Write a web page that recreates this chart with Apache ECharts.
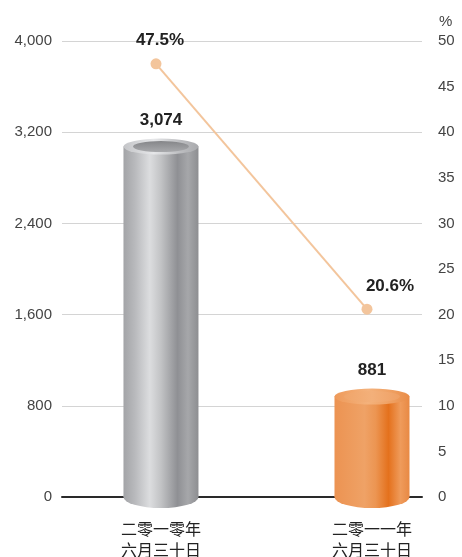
<!DOCTYPE html>
<html>
<head>
<meta charset="utf-8">
<script src="https://cdn.jsdelivr.net/npm/echarts@6/dist/echarts.min.js"></script>
<style>
html,body{margin:0;padding:0;background:#fff;}
#chart{width:462px;height:557px;}
</style>
</head>
<body>
<div id="chart"></div>
<script>
// ---- data ----
var categories = ['二零一零年\n六月三十日', '二零一一年\n六月三十日'];
var amounts = [3074, 881];
var ratios = [47.5, 20.6];
var leftTicks = [0, 800, 1600, 2400, 3200, 4000];
var rightTicks = [0, 5, 10, 15, 20, 25, 30, 35, 40, 45, 50];
var rightUnit = '%';

var FONT = '"Liberation Sans", Arial, Helvetica, sans-serif';
function fmt(v){ return String(v).replace(/\B(?=(\d{3})+(?!\d))/g, ','); }
function lg(stops){
  return new echarts.graphic.LinearGradient(0,0,1,0, stops.map(function(s){return {offset:s[0], color:s[1]};}));
}
var bodyGray = [[0,'#a3a4a7'],[0.15,'#b8b9bc'],[0.35,'#dcdddf'],[0.5,'#c2c3c5'],[0.72,'#8f9094'],[0.86,'#a6a7aa'],[1,'#8d8e91']];
var bodyOrange = [[0,'#ec9352'],[0.4,'#efa266'],[0.55,'#ec9552'],[0.72,'#e4711d'],[0.88,'#ef9b5b'],[1,'#e88944']];
var bodies = [bodyGray, bodyOrange];

var barData = amounts.map(function(v,i){ return {value:[i, v], itemStyle:{color: lg(bodies[i])}}; });
var bottomData = amounts.map(function(v,i){ return {value:[i, 0], itemStyle:{color: lg(bodies[i]), opacity:1}}; });
var topData = amounts.map(function(v,i){
  var c = i === 0
    ? new echarts.graphic.LinearGradient(0,0,1,0,[{offset:0,color:'#c4c5c8'},{offset:0.4,color:'#e6e7e9'},{offset:0.75,color:'#bdbec1'},{offset:1,color:'#a9aaad'}])
    : new echarts.graphic.LinearGradient(0,0,1,0,[{offset:0,color:'#ee9a5a'},{offset:0.45,color:'#f4b27c'},{offset:0.8,color:'#ee9d5e'},{offset:1,color:'#e98c48'}]);
  return {value:[i, v], itemStyle:{color:c, opacity:1}};
});
var innerData = amounts.map(function(v,i){
  var c = i === 0
    ? new echarts.graphic.LinearGradient(0,0,0,1,[{offset:0,color:'#858689'},{offset:1,color:'#a9aaad'}])
    : new echarts.graphic.LinearGradient(0,0,1,0,[{offset:0,color:'#f0a56a'},{offset:0.5,color:'#f3b07a'},{offset:1,color:'#efa064'}]);
  return {value:[i, v], itemStyle:{color:c, opacity:1}};
});
var lineData = ratios.map(function(v,i){
  return {value:[i, v], label:{offset: i === 0 ? [4, 0] : [23, 0]}};
});

var chart = echarts.init(document.getElementById('chart'), null, {renderer:'canvas'});
chart.setOption({
  animation:false,
  backgroundColor:'#ffffff',
  textStyle:{fontFamily:FONT},
  grid:{left:62, right:40, top:41, bottom:60, containLabel:false, outerBoundsMode:'none'},
  graphic:[{type:'text', left:439, top:14, style:{text:rightUnit, fontSize:15, fill:'#444', fontFamily:FONT}}],
  xAxis:[{
    type:'value', min:-0.469, max:1.237,
    axisLine:{show:true, onZero:false, lineStyle:{color:'#2a2a2a', width:2}},
    axisTick:{show:false}, splitLine:{show:false},
    axisLabel:{customValues:[0,1], margin:21, fontSize:16, lineHeight:21, color:'#222',
      fontFamily:'"Noto Sans CJK SC", sans-serif',
      formatter:function(v){ return categories[Math.round(v)] || ''; }}
  },{
    type:'value', min:-0.4455, max:1.2607, show:false
  }],
  yAxis:[{
    type:'value', min:0, max:4000, interval:800, position:'left',
    axisLine:{show:false}, axisTick:{show:false},
    splitLine:{lineStyle:{color:'#d4d4d4', width:1}},
    axisLabel:{margin:10, fontSize:15, color:'#444', formatter:function(v){return fmt(v);}}
  },{
    type:'value', min:0, max:50, interval:5, position:'right',
    axisLine:{show:false}, axisTick:{show:false}, splitLine:{show:false},
    axisLabel:{margin:16, fontSize:15, color:'#444'}
  }],
  series:[
    {type:'scatter', xAxisIndex:0, yAxisIndex:0, data:bottomData, symbol:'circle', symbolSize:[75,22], z:3, silent:true},
    {type:'bar', xAxisIndex:0, yAxisIndex:0, data:barData, barWidth:75, z:4, silent:true},
    {type:'scatter', xAxisIndex:0, yAxisIndex:0, data:topData, symbol:'circle', symbolSize:[75,16], z:5, silent:true,
      label:{show:true, position:'top', distance:10, fontSize:17, fontWeight:'bold', color:'#222', opacity:1,
        formatter:function(p){ return fmt(p.value[1]); }}},
    {type:'scatter', xAxisIndex:0, yAxisIndex:0, data:innerData, symbol:'circle', symbolSize:[56,11], z:6, silent:true},
    {type:'line', xAxisIndex:1, yAxisIndex:1, data:lineData, z:7, symbol:'circle', symbolSize:11,
      lineStyle:{color:'#f3c59c', width:2}, itemStyle:{color:'#f3c59c'},
      label:{show:true, position:'top', distance:9, fontSize:17, fontWeight:'bold', color:'#222',
        formatter:function(p){ return p.value[1].toFixed(1) + '%'; }}}
  ]
});
</script>
</body>
</html>
